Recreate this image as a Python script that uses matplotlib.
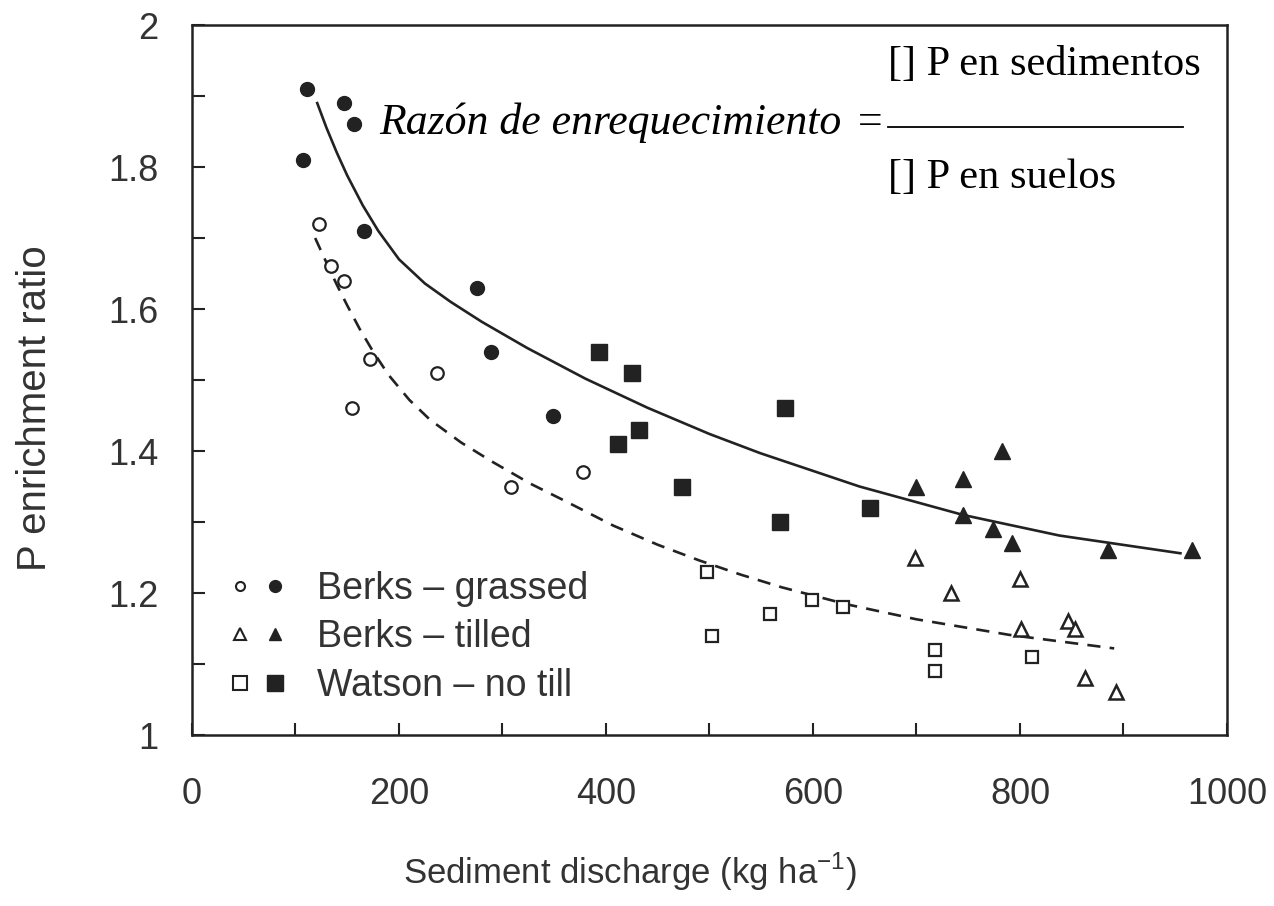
import matplotlib
matplotlib.use("Agg")
import matplotlib.pyplot as plt
from matplotlib.lines import Line2D
from matplotlib.legend_handler import HandlerTuple

plt.rcParams["font.family"] = ["Liberation Sans", "DejaVu Sans"]

# Berks - grassed
grass_open_x = [123, 134, 147, 172, 237, 155, 378, 308]
grass_open_y = [1.72, 1.66, 1.64, 1.53, 1.51, 1.46, 1.37, 1.35]
grass_fill_x = [111, 147, 157, 107, 166, 275, 289, 349]
grass_fill_y = [1.91, 1.89, 1.86, 1.81, 1.71, 1.63, 1.54, 1.45]

# Berks - tilled
till_open_x = [699, 800, 733, 801, 846, 853, 863, 893]
till_open_y = [1.25, 1.22, 1.20, 1.15, 1.16, 1.15, 1.08, 1.06]
till_fill_x = [783, 745, 700, 745, 774, 792, 885, 966]
till_fill_y = [1.40, 1.36, 1.35, 1.31, 1.29, 1.27, 1.26, 1.26]

# Watson - no till
notill_open_x = [498, 558, 599, 629, 502, 718, 718, 812]
notill_open_y = [1.23, 1.17, 1.19, 1.18, 1.14, 1.12, 1.09, 1.11]
notill_fill_x = [393, 425, 573, 432, 412, 473, 568, 655]
notill_fill_y = [1.54, 1.51, 1.46, 1.43, 1.41, 1.35, 1.30, 1.32]

# fitted curves
solid_x = [121, 130, 140, 150, 165, 180, 200, 225, 250, 280, 324, 380, 440, 500,
           549, 645, 745, 838, 955]
solid_y = [1.890, 1.855, 1.820, 1.788, 1.746, 1.710, 1.670, 1.636, 1.610, 1.582, 1.545,
           1.502, 1.461, 1.424, 1.397, 1.350, 1.310, 1.281, 1.256]
dash_x = [119, 130, 140, 150, 162, 175, 190, 210, 230, 260, 290, 327, 360, 407, 450,
          490, 530, 570, 633, 700, 790, 891]
dash_y = [1.700, 1.665, 1.634, 1.605, 1.572, 1.540, 1.507, 1.472, 1.444, 1.412, 1.385,
          1.354, 1.330, 1.295, 1.268, 1.246, 1.226, 1.208, 1.184, 1.163, 1.141, 1.122]

legend_labels = ["Berks \u2013 grassed", "Berks \u2013 tilled", "Watson \u2013 no till"]

ink = "#222222"
txt = "#333333"

fig = plt.figure(figsize=(12.74, 9.06), dpi=100)
ax = fig.add_axes([0.1507, 0.1887, 0.8124, 0.7837])

ax.plot(solid_x, solid_y, color=ink, lw=1.9)
ax.plot(dash_x, dash_y, color=ink, lw=1.9, dashes=(5, 3.5))

ax.plot(grass_open_x, grass_open_y, "o", ms=9, mfc="white", mec=ink, mew=1.6, ls="none")
ax.plot(grass_fill_x, grass_fill_y, "o", ms=10, mfc=ink, mec=ink, ls="none")
ax.plot(till_open_x, till_open_y, "^", ms=10, mfc="white", mec=ink, mew=1.8, ls="none")
ax.plot(till_fill_x, till_fill_y, "^", ms=11, mfc=ink, mec=ink, ls="none")
ax.plot(notill_open_x, notill_open_y, "s", ms=9, mfc="white", mec=ink, mew=1.6, ls="none")
ax.plot(notill_fill_x, notill_fill_y, "s", ms=12, mfc=ink, mec=ink, ls="none")

ax.set_xlim(0, 1000)
ax.set_ylim(1, 2)
ax.set_xticks(range(0, 1001, 200))
ax.set_xticks(range(100, 1000, 100), minor=True)
ax.set_yticks([1, 1.2, 1.4, 1.6, 1.8, 2])
ax.set_yticklabels(["1", "1.2", "1.4", "1.6", "1.8", "2"])
ax.set_yticks([1.1, 1.3, 1.5, 1.7, 1.9], minor=True)
ax.tick_params(which="both", direction="in", length=9, width=1.5, colors=ink,
               labelsize=26, labelcolor=txt)
ax.tick_params(axis="x", which="major", pad=30)
ax.tick_params(axis="y", which="major", pad=24)
for s in ax.spines.values():
    s.set_linewidth(1.8)
    s.set_color(ink)

ax.set_xlabel("Sediment discharge (kg ha$^{\\mathregular{-1}}$)", fontsize=25, color=txt)
ax.xaxis.set_label_coords(0.423, -0.163)
ax.set_ylabel("P enrichment ratio", fontsize=29, color=txt)
ax.yaxis.set_label_coords(-0.133, 0.4606)

# legend with open + filled marker pairs
h_go = Line2D([], [], marker="o", ms=6.5, mfc="white", mec=ink, mew=1.5, ls="none")
h_gf = Line2D([], [], marker="o", ms=8.5, mfc=ink, mec=ink, ls="none")
h_to = Line2D([], [], marker="^", ms=8, mfc="white", mec=ink, mew=1.5, ls="none")
h_tf = Line2D([], [], marker="^", ms=9, mfc=ink, mec=ink, ls="none")
h_no = Line2D([], [], marker="s", ms=10.5, mfc="white", mec=ink, mew=1.5, ls="none")
h_nf = Line2D([], [], marker="s", ms=12, mfc=ink, mec=ink, ls="none")
leg = ax.legend([(h_go, h_gf), (h_to, h_tf), (h_no, h_nf)], legend_labels,
                handler_map={tuple: HandlerTuple(ndivide=None, pad=0)},
                loc="lower left", bbox_to_anchor=(0.03, 0.044), frameon=False,
                fontsize=27, handlelength=1.85, handletextpad=0.65,
                labelspacing=0.33, borderpad=0, borderaxespad=0)
for t in leg.get_texts():
    t.set_color(txt)

# enrichment ratio definition
serif = ["Liberation Serif", "DejaVu Serif"]
ax.text(0.6725, 0.9296, "[] P en sedimentos", transform=ax.transAxes, family=serif,
        fontsize=30.5, ha="left", va="baseline", color="black")
ax.text(0.628, 0.8465, "Raz\u00f3n de enrequecimiento", transform=ax.transAxes, family=serif,
        style="italic", fontsize=31.5, ha="right", va="baseline", color="black")
ax.text(0.6667, 0.8465, "=", transform=ax.transAxes, family=serif,
        fontsize=31.5, ha="right", va="baseline", color="black")
ax.add_line(Line2D([0.6725, 0.9575], [0.8563, 0.8563], transform=ax.transAxes,
                   color="black", lw=1.3))
ax.text(0.6725, 0.7704, "[] P en suelos", transform=ax.transAxes, family=serif,
        fontsize=30.5, ha="left", va="baseline", color="black")

fig.savefig("out.png", dpi=100)
